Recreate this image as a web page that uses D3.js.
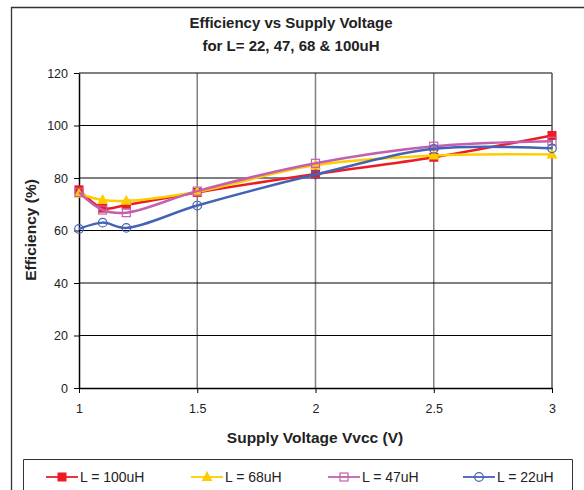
<!DOCTYPE html>
<html>
<head>
<meta charset="utf-8">
<style>
  body { margin: 0; background: #fff; }
  svg { display: block; font-family: "Liberation Sans", Arial, sans-serif; }
  .grid-h line { stroke: #000; stroke-width: 1; }
  .grid-v line { stroke: #808080; stroke-width: 1.5; }
  .axis text { font-size: 12.5px; fill: #222; }
  .axis path, .axis line { stroke: #000; }
</style>
</head>
<body>
<svg width="584" height="490"></svg>
<script src="https://d3js.org/d3.v7.min.js"></script>
<script>
// supply voltage (V)
var voltage = [1, 1.1, 1.2, 1.5, 2, 2.5, 3];
// efficiency (%) per inductor value
var eff100 = [75.5, 68.5, 69.7, 74.5, 81.5, 87.9, 96.2];
var eff68  = [74.0, 71.6, 71.3, 74.8, 84.9, 88.6, 89.0];
var eff47  = [74.5, 67.8, 66.8, 75.0, 85.6, 92.1, 94.0];
var eff22  = [60.6, 63.0, 61.0, 69.5, 81.3, 91.1, 91.3];
var seriesNames = ["L = 100uH", "L = 68uH", "L = 47uH", "L = 22uH"];
var yTicks = [0, 20, 40, 60, 80, 100, 120];
var xTicks = [1, 1.5, 2, 2.5, 3];

var series = [
  {name: seriesNames[0], values: eff100, color: "#ed1c24", marker: "square"},
  {name: seriesNames[1], values: eff68,  color: "#ffcc00", marker: "triangle"},
  {name: seriesNames[2], values: eff47,  color: "#c45fb0", marker: "opensquare"},
  {name: seriesNames[3], values: eff22,  color: "#4563b3", marker: "circle"}
];

var svg = d3.select("svg");

// outer chart frame (only left and top visible in the crop)
svg.append("path")
  .attr("d", "M11.5,495V7.5H590")
  .attr("fill", "none").attr("stroke", "#333").attr("stroke-width", 1.3);

var x = d3.scaleLinear().domain([1, 3]).range([79, 552]);
var y = d3.scaleLinear().domain([0, 120]).range([388, 73]);

// gridlines
svg.append("g").attr("class", "grid-v")
  .selectAll("line").data(xTicks.slice(1, -1)).enter().append("line")
  .attr("x1", function(d){ return x(d); }).attr("x2", function(d){ return x(d); })
  .attr("y1", y(0)).attr("y2", y(120));
svg.append("g").attr("class", "grid-h")
  .selectAll("line").data(yTicks.slice(1)).enter().append("line")
  .attr("x1", x(1)).attr("x2", x(3))
  .attr("y1", function(d){ return y(d); }).attr("y2", function(d){ return y(d); });
// right border of plot area
svg.append("line")
  .attr("x1", x(3)).attr("x2", x(3)).attr("y1", y(0)).attr("y2", y(120))
  .attr("stroke", "#555").attr("stroke-width", 1.5);

// axes
svg.append("g").attr("class", "axis")
  .attr("transform", "translate(" + x(1) + ",0)")
  .call(d3.axisLeft(y).tickValues(yTicks).tickSize(5).tickPadding(6).tickSizeOuter(0));
svg.append("g").attr("class", "axis")
  .attr("transform", "translate(0," + y(0) + ")")
  .call(d3.axisBottom(x).tickValues(xTicks).tickFormat(d3.format("")).tickSize(5).tickPadding(11).tickSizeOuter(0));
svg.selectAll(".axis .domain").attr("stroke-width", 1.5);

// titles
svg.append("text").attr("x", 291).attr("y", 28).attr("text-anchor", "middle")
  .attr("font-size", "15px").attr("font-weight", "bold").attr("fill", "#222")
  .text("Efficiency vs Supply Voltage");
svg.append("text").attr("x", 291).attr("y", 51).attr("text-anchor", "middle")
  .attr("font-size", "15px").attr("font-weight", "bold").attr("fill", "#222")
  .text("for L= 22, 47, 68 & 100uH");
svg.append("text").attr("x", 315).attr("y", 443).attr("text-anchor", "middle")
  .attr("font-size", "15.5px").attr("font-weight", "bold").attr("fill", "#222")
  .text("Supply Voltage Vvcc (V)");
svg.append("text").attr("transform", "translate(36,230) rotate(-90)").attr("text-anchor", "middle")
  .attr("font-size", "15.5px").attr("font-weight", "bold").attr("fill", "#222")
  .text("Efficiency (%)");

function drawMarker(g, type, color, cx, cy) {
  if (type == "square") {
    g.append("rect").attr("x", cx - 4.5).attr("y", cy - 4.5).attr("width", 9).attr("height", 9)
      .attr("fill", color);
  } else if (type == "opensquare") {
    g.append("rect").attr("x", cx - 4).attr("y", cy - 4).attr("width", 8).attr("height", 8)
      .attr("fill", "none").attr("stroke", color).attr("stroke-width", 1.2);
  } else if (type == "triangle") {
    g.append("path").attr("d", "M" + cx + "," + (cy - 6) + "L" + (cx + 5.5) + "," + (cy + 4) + "L" + (cx - 5.5) + "," + (cy + 4) + "Z")
      .attr("fill", color);
  } else {
    g.append("circle").attr("cx", cx).attr("cy", cy).attr("r", 4.3)
      .attr("fill", "none").attr("stroke", color).attr("stroke-width", 1.2);
  }
}

var line = d3.line()
  .x(function(d, i){ return x(voltage[i]); })
  .y(function(d){ return y(d); })
  .curve(d3.curveCatmullRom.alpha(0.5));

series.forEach(function(s) {
  var g = svg.append("g");
  g.append("path").datum(s.values).attr("d", line)
    .attr("fill", "none").attr("stroke", s.color).attr("stroke-width", 2.5);
  s.values.forEach(function(v, i) {
    drawMarker(g, s.marker, s.color, x(voltage[i]), y(v));
  });
});

// legend
svg.append("path")
  .attr("d", "M23.5,495V459.5H572.5V495")
  .attr("fill", "none").attr("stroke", "#333").attr("stroke-width", 1);
var legendX = [46, 191, 328, 463];
series.forEach(function(s, i) {
  var g = svg.append("g").attr("transform", "translate(" + legendX[i] + ",477)");
  g.append("line").attr("x1", 0).attr("x2", 32).attr("y1", 0).attr("y2", 0)
    .attr("stroke", s.color).attr("stroke-width", 1.8);
  drawMarker(g, s.marker, s.color, 16, 0);
  g.append("text").attr("x", 34).attr("y", 5).attr("font-size", "14px").attr("fill", "#222")
    .text(s.name);
});
</script>
</body>
</html>
